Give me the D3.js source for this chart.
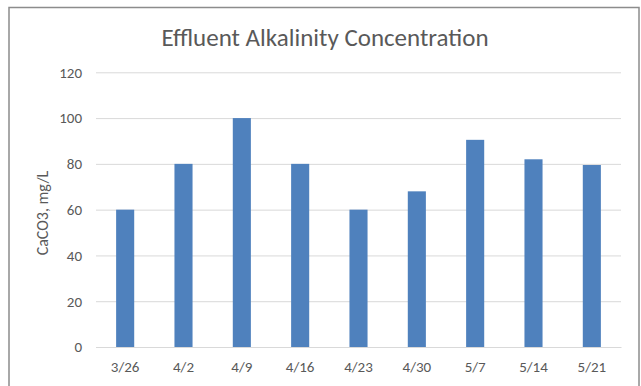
<!DOCTYPE html>
<html><head><meta charset="utf-8">
<script src="https://cdn.jsdelivr.net/npm/d3@7"></script>
<style>body{margin:0;background:#fff}svg{display:block}</style>
</head><body>
<svg id="c" width="641" height="386"></svg>
<script>
const categories = ["3/26","4/2","4/9","4/16","4/23","4/30","5/7","5/14","5/21"];
const values = [60, 80, 100, 80, 60, 68, 90.5, 82, 79.5];
const yTicks = [0, 20, 40, 60, 80, 100, 120];
const title = "Effluent Alkalinity Concentration";
const yTitle = "CaCO3, mg/L";

const font = "Carlito, Lato, 'Open Sans', sans-serif";
const svg = d3.select("#c");
svg.append("rect").attr("x",9).attr("y",7.5).attr("width",630).attr("height",390)
  .attr("fill","#fff").attr("stroke","#8c8c8c").attr("stroke-width",1.5);

const x = d3.scaleBand().domain(categories).range([96,621]).paddingInner(0.69).paddingOuter(0.345);
const y = d3.scaleLinear().domain([0,120]).range([347,72.3]);

const gy = svg.append("g").attr("transform","translate(96,0)")
  .call(d3.axisLeft(y).tickValues(yTicks).tickSize(-525).tickPadding(14).tickFormat(d3.format("d")));
gy.select(".domain").remove();
gy.selectAll("line").attr("stroke","#d9d9d9").attr("stroke-width",1);
gy.selectAll("text").attr("fill","#595959").style("font-family",font).style("font-size","15px");

svg.append("g").selectAll("rect").data(values).join("rect")
  .attr("x",(d,i)=>x(categories[i])).attr("width",x.bandwidth())
  .attr("y",d=>y(d)).attr("height",d=>y(0)-y(d)).attr("fill","#4F81BD");

const gx = svg.append("g").attr("transform","translate(0,347)")
  .call(d3.axisBottom(x).tickSize(0).tickPadding(14));
gx.select(".domain").attr("stroke","#d9d9d9");
gx.selectAll("text").attr("fill","#595959").style("font-family",font).style("font-size","15px");

svg.append("text").attr("x",325).attr("y",46).attr("text-anchor","middle")
  .attr("fill","#595959").style("font-family",font).style("font-size","25px").text(title);

svg.append("text").attr("transform","translate(48,213) rotate(-90)").attr("text-anchor","middle")
  .attr("fill","#595959").style("font-family",font).style("font-size","16px").text(yTitle);
</script>
</body></html>
